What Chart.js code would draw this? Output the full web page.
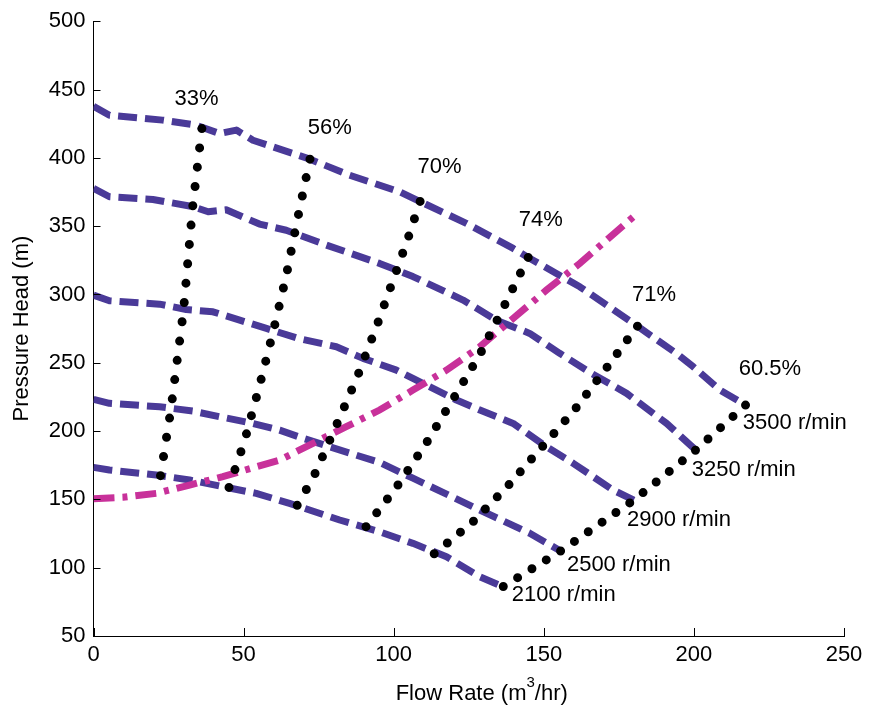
<!DOCTYPE html>
<html>
<head>
<meta charset="utf-8">
<script src="https://cdn.jsdelivr.net/npm/chart.js@4.4.1/dist/chart.umd.min.js"></script>
<style>
  html, body { margin: 0; padding: 0; background: #fff; }
  canvas { display: block; }
</style>
</head>
<body>
<canvas id="pumpChart" width="869" height="706"></canvas>
<script>
// head-flow curves at each pump speed [flow m3/hr, head m]
const curve3500 = [[0,437.8],[5.3,431.2],[23,427.6],[34.2,423.9],[42,417.8],[47.6,420.3],[53.1,412.9],[66.4,403.2],[72.1,399],[85.3,387.3],[102,375.1],[108.8,368],[124.2,352],[139.8,333.7],[144.8,327.1],[162,305.6],[181.2,276.8],[194.2,256.8],[199.8,247],[208.7,230],[217.2,219]];
const curve3250 = [[0,377.6],[5.3,371.5],[19.8,369.5],[33.1,364.3],[38.2,360.5],[44.2,362],[55.3,351.5],[64.2,347],[77.6,336.1],[95.3,322.7],[106.4,313.1],[123.1,295.9],[134.2,281.2],[145.3,271.5],[155.3,256.9],[165.3,243],[177.6,227.6],[190.9,205.6],[200.6,186.1]];
const curve2900 = [[0,299.5],[5.3,295.4],[22,292.9],[30.9,289],[39.8,287.3],[48.7,281.2],[57.6,275.1],[68.7,267.5],[80.9,261.7],[89.8,253.2],[100.9,244.6],[106.4,238.5],[120.9,222.7],[128.7,215.4],[139.8,205.6],[150.9,188.5],[159.8,176.4],[173.1,156.8],[180,149.5]];
const curve2500 = [[0,223.2],[5.3,220.3],[22,217.8],[33.1,214.6],[42,210.5],[53.1,205.6],[62,200.7],[68.7,195.5],[78.7,188.5],[95.3,177],[106.4,165.5],[128.7,142.2],[145.3,125.2],[155.6,112.2]];
const curve2100 = [[0,173.4],[5.3,171.5],[20.9,167.8],[32,164.2],[43.1,159.3],[54.2,154.4],[65.3,147.1],[82,134.9],[95.3,126.3],[106.4,117.8],[117.6,108],[128.7,93.4],[136.4,86.1]];

// pipeline system curve
const systemCurve = [[0,150.5],[9.8,151.5],[20.9,154.4],[32,160.5],[43.1,166.6],[54.2,173.9],[62,178.8],[73.1,191],[84.2,203.2],[95.3,215.4],[106.4,230],[117.6,244.6],[128.7,261.7],[139.8,282.5],[150.9,303.2],[162,322.7],[179.8,356.8]];

// iso-efficiency lines
const eff33 = [[36.1,421.4],[33,363.4],[30,288.5],[25.8,216],[22.3,167.1]];
const eff56 = [[72.1,399],[68,355.6],[64.2,313.6],[60,274.1],[55.2,232.2],[50.3,192.7],[45.1,158.5]];
const eff70 = [[108.8,368.1],[104.6,340],[100.3,313.6],[94.3,276.6],[87.7,238.8],[80.4,201.7],[73.3,166.4],[67.8,145.4]];
const eff74 = [[144.8,327.1],[136.4,289.8],[128.6,255.6],[120,224.2],[110.6,190.3],[100.8,158.5],[90.7,129.8]];
const eff71 = [[181.2,276.8],[170.6,245.4],[160.2,215.4],[150,189.8],[137.9,159.5],[126.2,133.2],[113.4,110]];
const eff605 = [[217.2,219],[200.6,186.1],[180,149.5],[155.6,112.2],[136.4,86.1]];

const speedNames = ['3500 r/min', '3250 r/min', '2900 r/min', '2500 r/min', '2100 r/min'];
const effNames = ['33%', '56%', '70%', '74%', '71%', '60.5%'];

// where the text labels sit, in axis units
const effLabelAt = [[34.3,442.9],[78.7,421.7],[115.3,393.2],[149,354.4],[186.7,299.5],[225.3,245.4]];
const speedLabelAt = [[216.3,205.9],[199.3,171.5],[177.7,134.9],[157.7,101.9],[139.3,80]];

const xTicks = [0, 50, 100, 150, 200, 250];
const yTicks = [50, 100, 150, 200, 250, 300, 350, 400, 450, 500];

const FONT = '"Liberation Sans", Arial, Helvetica, sans-serif';
const PURPLE = '#4a3a98';
const MAGENTA = '#c8319a';
const DOTS_PER_LINE = 19;

const toPts = arr => arr.map(([x, y]) => ({ x, y }));

const speedCurves = [curve3500, curve3250, curve2900, curve2500, curve2100];
const effLines = [eff33, eff56, eff70, eff74, eff71, eff605];

const datasets = [];
effLines.forEach((line, i) => {
    datasets.push({
        label: effNames[i], data: toPts(line), showLine: true, pointRadius: 0,
        borderColor: '#000', borderWidth: 9, borderDash: [0, 18],
        borderCapStyle: 'round', tension: 0, order: 0
    });
});
datasets.push({
    label: 'system', data: toPts(systemCurve), showLine: true, pointRadius: 0,
    borderColor: MAGENTA, borderWidth: 7, borderDash: [21, 8, 5, 8],
    borderCapStyle: 'butt', tension: 0, order: 1
});
speedCurves.forEach((curve, i) => {
    datasets.push({
        label: speedNames[i], data: toPts(curve), showLine: true, pointRadius: 0,
        borderColor: PURPLE, borderWidth: 7, borderDash: [19, 8],
        borderCapStyle: 'butt', borderJoinStyle: 'round', tension: 0, order: 2
    });
});

// inward tick marks, curve labels and the x-axis title with superscript
const annotate = {
    id: 'annotate',
    afterDraw(chart) {
        const { ctx, chartArea: area, scales: { x, y } } = chart;
        ctx.save();
        ctx.strokeStyle = '#000';
        ctx.lineWidth = 1;
        xTicks.forEach(v => {
            const px = Math.round(x.getPixelForValue(v)) + 0.5;
            ctx.beginPath();
            ctx.moveTo(px, area.bottom);
            ctx.lineTo(px, area.bottom - 8);
            ctx.stroke();
        });
        yTicks.forEach(v => {
            const py = Math.round(y.getPixelForValue(v)) + 0.5;
            ctx.beginPath();
            ctx.moveTo(area.left, py);
            ctx.lineTo(area.left + 7, py);
            ctx.stroke();
        });

        ctx.fillStyle = '#000';
        ctx.font = '22px ' + FONT;
        ctx.textBaseline = 'middle';
        ctx.textAlign = 'center';
        effNames.forEach((t, i) => {
            ctx.fillText(t, x.getPixelForValue(effLabelAt[i][0]), y.getPixelForValue(effLabelAt[i][1]));
        });
        ctx.textAlign = 'left';
        speedNames.forEach((t, i) => {
            ctx.fillText(t, x.getPixelForValue(speedLabelAt[i][0]), y.getPixelForValue(speedLabelAt[i][1]));
        });

        // Flow Rate (m^3/hr)
        const parts = ['Flow Rate (m', '3', '/hr)'];
        const big = '22px ' + FONT, small = '15px ' + FONT;
        ctx.font = big;
        const w1 = ctx.measureText(parts[0]).width;
        const w3 = ctx.measureText(parts[2]).width;
        ctx.font = small;
        const w2 = ctx.measureText(parts[1]).width;
        const cx = (area.left + area.right) / 2 + 13;
        const base = area.bottom + 64;
        let sx = cx - (w1 + w2 + w3) / 2;
        ctx.textBaseline = 'alphabetic';
        ctx.font = big;
        ctx.fillText(parts[0], sx, base);
        sx += w1;
        ctx.font = small;
        ctx.fillText(parts[1], sx, base - 13);
        sx += w2;
        ctx.font = big;
        ctx.fillText(parts[2], sx, base);
        ctx.restore();
    }
};

const pumpChart = new Chart(document.getElementById('pumpChart').getContext('2d'), {
    type: 'scatter',
    data: { datasets: datasets },
    options: {
        responsive: false,
        animation: false,
        layout: { padding: { top: 21, right: 25, left: 0, bottom: 0 } },
        plugins: { legend: { display: false }, tooltip: { enabled: false } },
        scales: {
            x: {
                type: 'linear', min: 0, max: 250,
                afterBuildTicks: s => { s.ticks = xTicks.map(v => ({ value: v })); },
                ticks: { color: '#000', font: { family: FONT, size: 22 }, padding: 6, maxRotation: 0 },
                grid: { display: false, drawTicks: false },
                border: { display: true, color: '#000', width: 1 },
                afterFit: s => { s.height = 70; }
            },
            y: {
                type: 'linear', min: 50, max: 500,
                afterBuildTicks: s => { s.ticks = yTicks.map(v => ({ value: v })); },
                ticks: { color: '#000', font: { family: FONT, size: 22 }, padding: 8 },
                grid: { display: false, drawTicks: false },
                border: { display: true, color: '#000', width: 1 },
                title: { display: true, text: 'Pressure Head (m)', color: '#000', font: { family: FONT, size: 22 }, padding: { top: 9, bottom: 0 } },
                afterFit: s => { s.width = 93.5; }
            }
        }
    },
    plugins: [annotate]
});

// space the dots so every efficiency line starts and ends on a dot
effLines.forEach((line, i) => {
    let len = 0;
    for (let k = 1; k < line.length; k++) {
        const dx = pumpChart.scales.x.getPixelForValue(line[k][0]) - pumpChart.scales.x.getPixelForValue(line[k - 1][0]);
        const dy = pumpChart.scales.y.getPixelForValue(line[k][1]) - pumpChart.scales.y.getPixelForValue(line[k - 1][1]);
        len += Math.hypot(dx, dy);
    }
    pumpChart.data.datasets[i].borderDash = [0, len / (DOTS_PER_LINE - 1) - 0.02];
});
pumpChart.update('none');
</script>
</body>
</html>
